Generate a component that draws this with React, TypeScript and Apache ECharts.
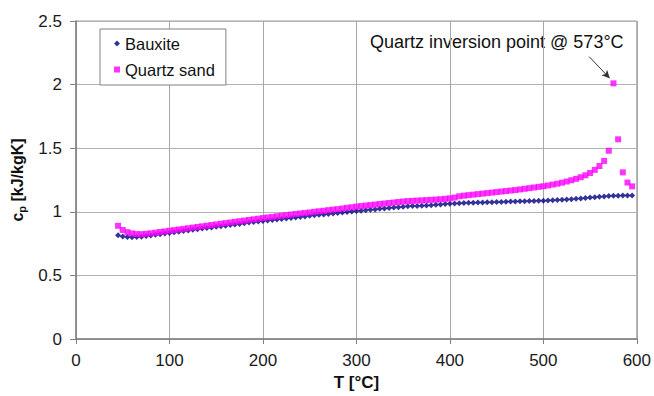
import React, { useEffect, useRef } from "react";
import * as echarts from "echarts";

const temperatures = [
  45, 50, 55, 60, 65, 70, 75, 80, 85, 90, 95, 100, 105, 110, 115, 120, 125, 130, 135, 140,
  145, 150, 155, 160, 165, 170, 175, 180, 185, 190, 195, 200, 205, 210, 215, 220, 225, 230,
  235, 240, 245, 250, 255, 260, 265, 270, 275, 280, 285, 290, 295, 300, 305, 310, 315, 320,
  325, 330, 335, 340, 345, 350, 355, 360, 365, 370, 375, 380, 385, 390, 395, 400, 405, 410,
  415, 420, 425, 430, 435, 440, 445, 450, 455, 460, 465, 470, 475, 480, 485, 490, 495, 500,
  505, 510, 515, 520, 525, 530, 535, 540, 545, 550, 555, 560, 565, 570, 575, 580, 585, 590, 595,
];

const bauxite = [
  0.815, 0.806, 0.802, 0.8, 0.801, 0.804, 0.809, 0.814, 0.819, 0.824, 0.829, 0.834, 0.839, 0.844,
  0.849, 0.853, 0.858, 0.863, 0.868, 0.872, 0.877, 0.882, 0.887, 0.891, 0.896, 0.901, 0.905, 0.91,
  0.915, 0.919, 0.924, 0.928, 0.932, 0.936, 0.94, 0.944, 0.948, 0.952, 0.956, 0.96, 0.964, 0.968,
  0.972, 0.976, 0.979, 0.983, 0.987, 0.991, 0.994, 0.998, 1.002, 1.006, 1.009, 1.013, 1.016, 1.019,
  1.023, 1.026, 1.029, 1.033, 1.036, 1.04, 1.043, 1.045, 1.046, 1.048, 1.05, 1.052, 1.055, 1.058,
  1.061, 1.064, 1.066, 1.068, 1.069, 1.071, 1.072, 1.073, 1.074, 1.075, 1.076, 1.077, 1.078, 1.079,
  1.08, 1.081, 1.082, 1.083, 1.084, 1.085, 1.086, 1.087, 1.089, 1.091, 1.093, 1.095, 1.097, 1.099,
  1.102, 1.105, 1.108, 1.112, 1.115, 1.118, 1.121, 1.124, 1.126, 1.127, 1.128, 1.128, 1.129,
];

const quartzSand = [
  0.89, 0.857, 0.84, 0.83, 0.825, 0.824, 0.827, 0.831, 0.836, 0.841, 0.846, 0.851, 0.856, 0.861,
  0.866, 0.871, 0.876, 0.881, 0.886, 0.891, 0.896, 0.901, 0.906, 0.911, 0.916, 0.921, 0.926, 0.931,
  0.936, 0.941, 0.946, 0.951, 0.956, 0.96, 0.965, 0.969, 0.974, 0.978, 0.983, 0.987, 0.991, 0.995,
  1.0, 1.004, 1.008, 1.013, 1.017, 1.021, 1.026, 1.031, 1.036, 1.041, 1.045, 1.049, 1.053, 1.057,
  1.061, 1.065, 1.069, 1.073, 1.077, 1.081, 1.084, 1.086, 1.088, 1.09, 1.092, 1.094, 1.096, 1.099,
  1.102, 1.106, 1.112, 1.122, 1.127, 1.131, 1.135, 1.139, 1.143, 1.147, 1.151, 1.155, 1.159, 1.163,
  1.167, 1.171, 1.176, 1.181, 1.186, 1.191, 1.196, 1.201, 1.207, 1.214, 1.221, 1.229, 1.238, 1.248,
  1.259, 1.272, 1.287, 1.305, 1.33, 1.36, 1.4, 1.48, 2.01, 1.57, 1.31, 1.23, 1.2,
];

const seriesNames = ["Bauxite", "Quartz sand"];
const annotationText = "Quartz inversion point @ 573°C";
const arrowFrom = [549, 2.22];
const arrowTo = [571, 2.05];

const FONT = 'Arial, "Liberation Sans", Helvetica, sans-serif';

export default function App() {
  const ref = useRef<HTMLDivElement>(null);

  useEffect(() => {
    if (!ref.current) return;
    const chart = echarts.init(ref.current, undefined, { renderer: "svg" });
    const bauxiteData = temperatures.map((t, i) => [t, bauxite[i]]);
    const quartzData = temperatures.map((t, i) => [t, quartzSand[i]]);

    chart.setOption({
      animation: false,
      backgroundColor: "#ffffff",
      textStyle: { fontFamily: FONT },
      grid: {
        left: 76,
        right: 16,
        top: 21,
        bottom: 57,
        show: true,
        borderColor: "#9a9a9a",
        borderWidth: 1,
        backgroundColor: "transparent",
      },
      legend: {
        orient: "vertical",
        left: 100,
        top: 29,
        backgroundColor: "#ffffff",
        borderColor: "#808080",
        borderWidth: 1,
        borderRadius: 0,
        padding: [6, 11, 7, 14],
        itemGap: 9,
        itemWidth: 6,
        itemHeight: 6,
        textStyle: { fontSize: 16.5, color: "#111", fontFamily: FONT },
        data: [
          { name: seriesNames[0], icon: "diamond" },
          { name: seriesNames[1], icon: "rect" },
        ],
      },
      xAxis: {
        type: "value",
        min: 0,
        max: 600,
        interval: 100,
        name: "T [°C]",
        nameLocation: "middle",
        nameGap: 35,
        nameTextStyle: { fontSize: 17, fontWeight: "bold", color: "#111", fontFamily: FONT },
        axisLine: { show: true, onZero: false, lineStyle: { color: "#808080", width: 1.5 } },
        axisTick: { show: true, inside: false, length: 5, lineStyle: { color: "#808080" } },
        axisLabel: { fontSize: 17, color: "#1a1a1a", margin: 13, fontFamily: FONT },
        splitLine: { show: true, lineStyle: { color: "#a6a6a6", width: 1 } },
      },
      yAxis: {
        type: "value",
        min: 0,
        max: 2.5,
        interval: 0.5,
        name: "{a|c}{b|p}{a| [kJ/kgK]}",
        nameLocation: "middle",
        nameGap: 42,
        nameRotate: 90,
        nameTextStyle: {
          color: "#111",
          fontFamily: FONT,
          rich: {
            a: { fontSize: 16, fontWeight: "bold", color: "#111", fontFamily: FONT, verticalAlign: "top" },
            b: {
              fontSize: 11,
              fontWeight: "bold",
              color: "#111",
              fontFamily: FONT,
              verticalAlign: "top",
              padding: [7, 0, 0, 0],
            },
          },
        },
        axisLine: { show: true, lineStyle: { color: "#808080", width: 1.5 } },
        axisTick: { show: true, inside: false, length: 6, lineStyle: { color: "#808080" } },
        axisLabel: { fontSize: 17, color: "#1a1a1a", margin: 14, fontFamily: FONT },
        splitLine: { show: true, lineStyle: { color: "#b3b3b3", width: 1 } },
      },
      graphic: [
        {
          type: "text",
          left: 370,
          top: 33,
          silent: true,
          style: { text: annotationText, fontSize: 18, fill: "#111", fontFamily: FONT },
        },
      ],
      series: [
        {
          name: seriesNames[0],
          type: "scatter",
          symbol: "diamond",
          symbolSize: 6,
          itemStyle: { color: "#000080" },
          data: bauxiteData,
          z: 2,
        },
        {
          name: seriesNames[1],
          type: "scatter",
          symbol: "rect",
          symbolSize: 6,
          itemStyle: { color: "#ff00ff" },
          data: quartzData,
          z: 3,
          markLine: {
            silent: true,
            symbol: ["none", "arrow"],
            symbolSize: [6, 8],
            lineStyle: { color: "#333", width: 1, type: "solid" },
            label: { show: false },
            data: [[{ coord: arrowFrom }, { coord: arrowTo }]],
          },
        },
      ],
    });

    return () => chart.dispose();
  }, []);

  return (
    <div
      ref={ref}
      style={{ position: "fixed", left: 0, top: 0, width: 654, height: 396, background: "#fff" }}
    />
  );
}
